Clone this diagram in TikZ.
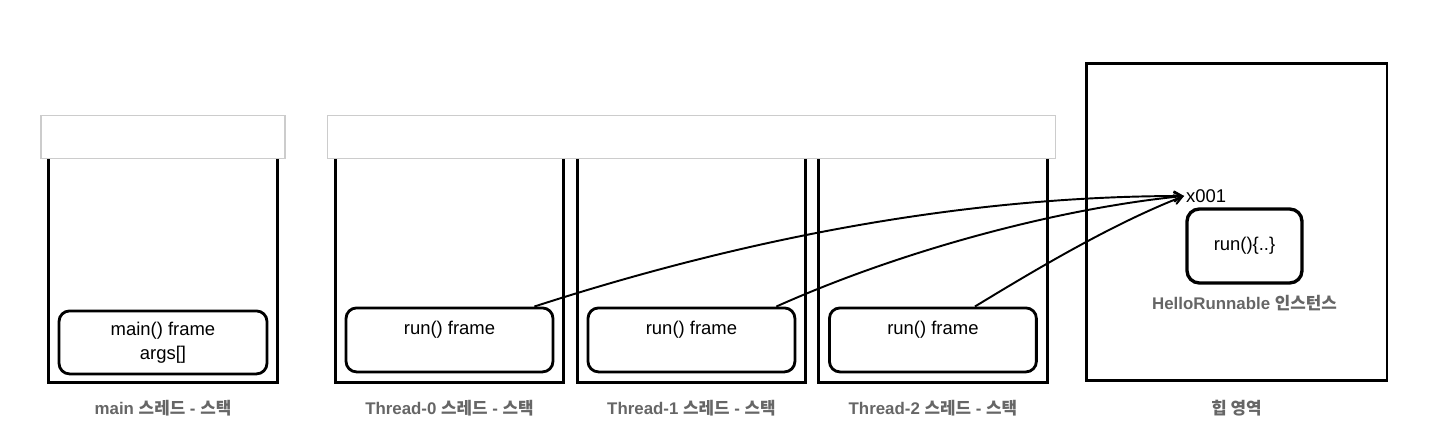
\documentclass[tikz,border=0pt]{standalone}
\usepackage{fontspec}
\setmainfont{Liberation Sans}
\newfontfamily\kr{Noto Sans CJK KR}
\usetikzlibrary{calc, arrows}
\definecolor{lblgray}{HTML}{666666}
\definecolor{bargray}{HTML}{CCCCCC}
\tikzstyle{stackbox} = [minimum width=4.56cm, minimum height=4.46cm, inner sep=0pt]
\tikzstyle{lid} = [draw=bargray, fill=white, line width=0.6pt, minimum height=0.86cm, inner sep=0pt]
\tikzstyle{stackframe} = [draw, rounded corners=6pt, line width=1.6pt, minimum width=4.14cm,
minimum height=1.28cm, align=center, font=\fontsize{10.5}{13.5}\selectfont]
\tikzstyle{caption} = [text=lblgray, font=\bfseries\fontsize{9.6}{11}\selectfont]
\tikzstyle{refline} = [->, line width=1.1pt]

\begin{document}
\begin{tikzpicture}[x=0.02cm, y=-0.02cm, >=angle 60]
      \useasboundingbox (0,0) rectangle (1432,448);
      % stacks
      \node [stackbox] (ms) at (163,270.5) {};
      \node [stackbox] (s0) at (449.5,270.5) {};
      \node [stackbox, right of=s0, node distance=4.84cm] (s1) {};
      \node [stackbox, right of=s1, node distance=4.83cm] (s2) {};
      \foreach \s in {ms,s0,s1,s2}
        \draw [line width=1.7pt] (\s.north west) -- (\s.south west) -- (\s.south east) -- (\s.north east);
      \node [lid, minimum width=4.88cm, anchor=south] (lidm) at (ms.north) {};
      \node [lid, minimum width=14.56cm, anchor=south west] (lidt) at ($(s0.north west)+(-8.5,0)$) {};
      % frames
      \node [stackframe, minimum width=4.16cm, minimum height=1.26cm, anchor=south] (fm) at ($(ms.south)+(0,-7)$) {main() frame\\args[]};
      \node [stackframe, anchor=south] (f0) at ($(s0.south)+(0,-9)$) {run() frame\\\phantom{r}};
      \node [stackframe, anchor=south] (f1) at ($(s1.south)+(0,-9)$) {run() frame\\\phantom{r}};
      \node [stackframe, anchor=south] (f2) at ($(s2.south)+(0,-9)$) {run() frame\\\phantom{r}};
      \node [caption, below of=ms, node distance=2.75cm] (lm) {main {\kr 스레드} - {\kr 스택}};
      \node [caption, below of=s0, node distance=2.75cm] (l0) {Thread-0 {\kr 스레드} - {\kr 스택}};
      \node [caption, below of=s1, node distance=2.75cm] (l1) {Thread-1 {\kr 스레드} - {\kr 스택}};
      \node [caption, below of=s2, node distance=2.75cm] (l2) {Thread-2 {\kr 스레드} - {\kr 스택}};
      % heap
      \node [draw, line width=1.7pt, minimum width=6.02cm, minimum height=6.36cm] (heap) at (1236.5,222) {};
      \node [caption, below of=heap, node distance=3.72cm] (lh) {{\kr 힙 영역}};
      \node [draw, line width=1.9pt, rounded corners=7pt, minimum width=2.3cm, minimum height=1.48cm,
        font=\fontsize{10.5}{13}\selectfont] (inst) at (1244.5,246) {run()\{..\}};
      \node [caption, below of=inst, node distance=1.14cm] (li) {HelloRunnable {\kr 인스턴스}};
      \node [anchor=west, inner sep=1pt, font=\fontsize{10.5}{13}\selectfont] (addr) at (1184,196) {x001};
      % references
      \draw [refline] ($(f0.north east)+(-20,0)$) .. controls (740,240) and (960,196) .. (addr.west);
      \draw [refline] ($(f1.north east)+(-20,0)$) .. controls (905,249) and (1062,208) .. (addr.west);
      \draw [refline] ($(f2.north)+(42,0)$) .. controls (1035,270) and (1112,224) .. (addr.west);
  \end{tikzpicture}
\end{document}
